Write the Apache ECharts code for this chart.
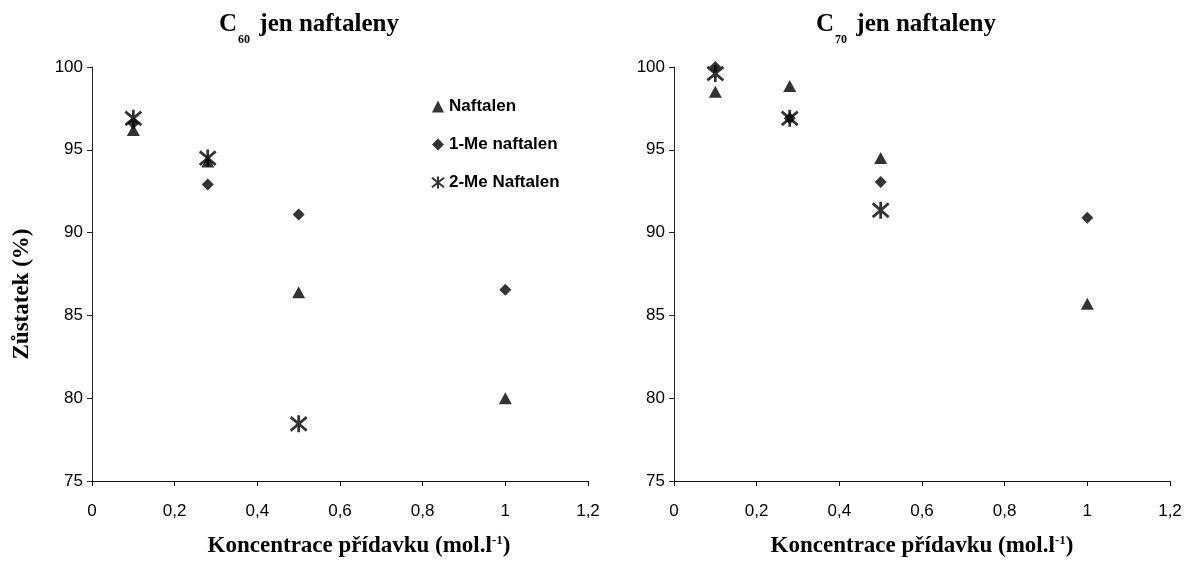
<!DOCTYPE html>
<html>
<head>
<meta charset="utf-8">
<script src="https://cdn.jsdelivr.net/npm/echarts@6/dist/echarts.min.js"></script>
<style>
  html, body { margin: 0; padding: 0; background: #fff; }
  #chart { width: 1187px; height: 563px; }
</style>
</head>
<body>
<div id="chart"></div>
<script>
// Additive concentrations (mol/l)
const concentrations = [0.1, 0.28, 0.5, 1];

// Residual amount (%) of C60 per naphthalene additive
const c60Naftalen = [96.2, 94.3, 86.4, 80.0];
const c60MeNaftalen1 = [96.6, 92.9, 91.1, 86.55];
const c60MeNaftalen2 = [96.9, 94.5, 78.45, null];

// Residual amount (%) of C70 per naphthalene additive
const c70Naftalen = [98.5, 98.85, 94.5, 85.7];
const c70MeNaftalen1 = [100.0, 96.9, 93.05, 90.9];
const c70MeNaftalen2 = [99.6, 96.9, 91.35, null];

const seriesNames = ['Naftalen', '1-Me naftalen', '2-Me Naftalen'];
const xTicks = [0, 0.2, 0.4, 0.6, 0.8, 1, 1.2];
const yTicks = [75, 80, 85, 90, 95, 100];

const starPath = 'path://M0,1L10,9M10,1L0,9M5,0L5,10';

function pairs(values) {
  const out = [];
  concentrations.forEach((x, i) => {
    if (values[i] !== null) out.push([x, values[i]]);
  });
  return out;
}

const symbolStyles = [
  { symbol: 'triangle', symbolSize: [13, 12], itemStyle: { color: '#000' } },
  { symbol: 'diamond', symbolSize: [12, 12], itemStyle: { color: '#000' } },
  { symbol: starPath, symbolSize: [16, 17],
    itemStyle: { color: 'rgba(0,0,0,0)', borderColor: '#000', borderWidth: 2.8 } }
];

function makeSeries(idx, values, axisIndex) {
  return Object.assign({
    type: 'scatter',
    name: seriesNames[idx],
    xAxisIndex: axisIndex,
    yAxisIndex: axisIndex,
    data: pairs(values),
    emphasis: { disabled: true }
  }, symbolStyles[idx]);
}

const serif = 'Liberation Serif, Times New Roman, serif';
const tickFont = { fontFamily: 'Liberation Sans, Arial, sans-serif', fontSize: 17, color: '#000' };
const nameFont = { fontFamily: serif, fontWeight: 'bold', fontSize: 23, color: '#000' };

function xAxis(gridIndex, padLeft) {
  return {
    type: 'value', gridIndex: gridIndex,
    min: 0, max: 1.2, interval: 0.2,
    name: 'Koncentrace přídavku (mol.l{sup|-1})',
    nameLocation: 'middle', nameGap: 53,
    nameTextStyle: Object.assign({}, nameFont, {
      padding: [0, 0, 0, padLeft],
      rich: { sup: { fontFamily: serif, fontWeight: 'bold', fontSize: 13, padding: [0, 0, 12, 0] } }
    }),
    axisLine: { show: true, onZero: false, lineStyle: { color: '#111', width: 1 } },
    axisTick: { show: true, inside: false, length: 5, lineStyle: { color: '#111' } },
    axisLabel: Object.assign({}, tickFont, {
      margin: 22,
      formatter: v => xTicks.includes(Math.round(v * 10) / 10) ? String(Math.round(v * 10) / 10).replace('.', ',') : ''
    }),
    splitLine: { show: false }
  };
}

function yAxis(gridIndex, withName) {
  const ax = {
    type: 'value', gridIndex: gridIndex,
    min: 75, max: 100, interval: 5,
    axisLine: { show: true, onZero: false, lineStyle: { color: '#222', width: 1 } },
    axisTick: { show: true, inside: false, length: 5, lineStyle: { color: '#222' } },
    axisLabel: Object.assign({}, tickFont, {
      margin: 9,
      formatter: v => yTicks.includes(v) ? String(v) : ''
    }),
    splitLine: { show: false }
  };
  if (withName) {
    ax.name = 'Zůstatek (%)';
    ax.nameLocation = 'middle';
    ax.nameGap = 58;
    ax.nameTextStyle = Object.assign({}, nameFont, { padding: [0, 40, 0, 0] });
  }
  return ax;
}

const titleRich = {
  main: { fontFamily: serif, fontWeight: 'bold', fontSize: 25, color: '#000' },
  sub: { fontFamily: serif, fontWeight: 'bold', fontSize: 12, color: '#000', padding: [30, 3, 0, 1] }
};

const chart = echarts.init(document.getElementById('chart'), null, { renderer: 'canvas' });
chart.setOption({
  backgroundColor: '#fff',
  animation: false,
  title: [
    { text: '{main|C}{sub|60}{main| jen naftaleny}', left: 214, top: -1,
      textStyle: { rich: titleRich } },
    { text: '{main|C}{sub|70}{main| jen naftaleny}', left: 811, top: -1,
      textStyle: { rich: titleRich } }
  ],
  legend: {
    orient: 'vertical', left: 426, top: 93,
    itemWidth: 12, itemHeight: 12, itemGap: 21,
    data: seriesNames,
    textStyle: { fontFamily: 'Liberation Sans, Arial, sans-serif', fontWeight: 'bold', fontSize: 17, color: '#000' },
    selectedMode: false
  },
  grid: [
    { left: 92, width: 496, top: 67, height: 416, containLabel: false },
    { left: 674, width: 496, top: 67, height: 416, containLabel: false }
  ],
  xAxis: [xAxis(0, 38), xAxis(1, 0)],
  yAxis: [yAxis(0, true), yAxis(1, false)],
  series: [
    makeSeries(0, c60Naftalen, 0),
    makeSeries(1, c60MeNaftalen1, 0),
    makeSeries(2, c60MeNaftalen2, 0),
    makeSeries(0, c70Naftalen, 1),
    makeSeries(1, c70MeNaftalen1, 1),
    makeSeries(2, c70MeNaftalen2, 1)
  ]
});
</script>
</body>
</html>
